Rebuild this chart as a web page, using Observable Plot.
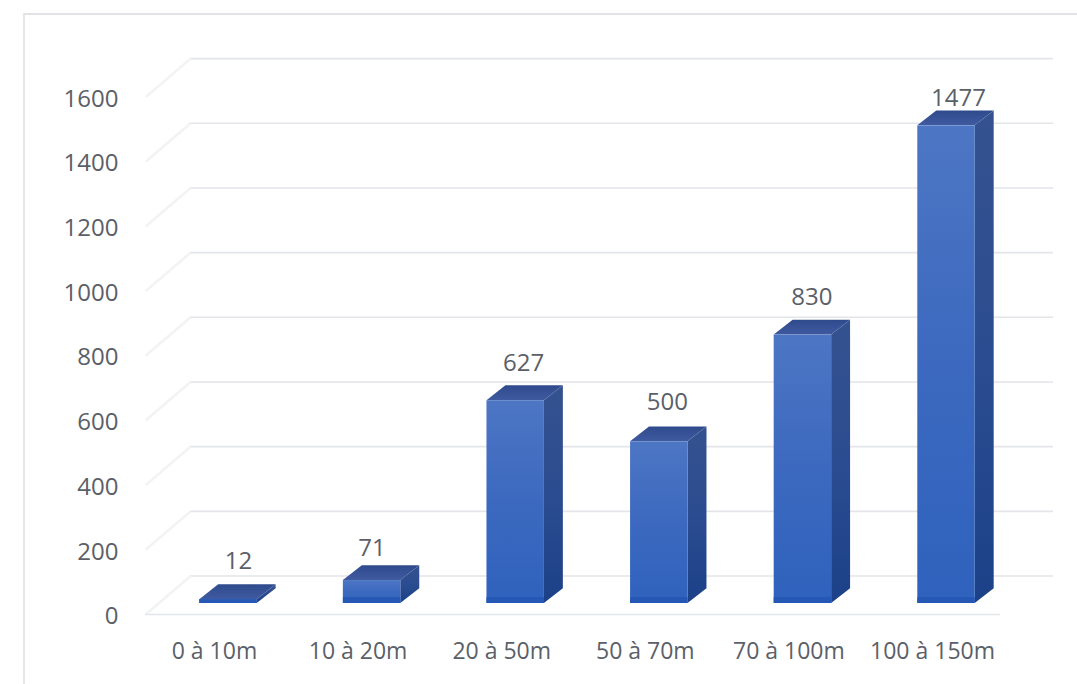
<!DOCTYPE html>
<html>
<head>
<meta charset="utf-8">
<script src="https://cdn.jsdelivr.net/npm/d3@7"></script>
<script src="https://cdn.jsdelivr.net/npm/@observablehq/plot@0.6"></script>
<style>
  html, body { margin: 0; padding: 0; background: #fff; overflow: hidden; }
  #frame { position: absolute; left: 23px; top: 13px; right: 0; bottom: 0; border-top: 2px solid #e2e3e6; border-left: 2px solid #e6e7ea; pointer-events: none; }
  #chart { position: absolute; left: 0; top: 0; }
</style>
</head>
<body>
<div id="frame"></div>
<div id="chart"></div>
<script>
const categories = ["0 à 10m", "10 à 20m", "20 à 50m", "50 à 70m", "70 à 100m", "100 à 150m"];
const values = [12, 71, 627, 500, 830, 1477];
const yTicks = [0, 200, 400, 600, 800, 1000, 1200, 1400, 1600];

// Layout of the pseudo 3-D scene, in scale units
const halfBar = 0.2, depthX = 0.132, depthY = 46, bevel = 18;
const floorFront = -34, floorBack = 85;
const wallFrontX = -0.577, wallBackX = -0.264, backRightX = 5.745, floorRightX = 5.377;
const labelDx = [10, 0, 8, 8, 9, 12];
const labelDy = [-23, -17, -23, -25, -23, -13];

const rows = values.map((v, i) => ({i, v}));
const sides = rows.flatMap(({i, v}) => [
  {i, x: i + halfBar, y1: 0, y2: v},
  {i, x: i + halfBar + depthX, y1: depthY, y2: v + depthY}
]);
const tops = rows.flatMap(({i, v}) => [
  {i, y: v, x1: i - halfBar, x2: i + halfBar},
  {i, y: v + depthY, x1: i - halfBar + depthX, x2: i + halfBar + depthX}
]);

const textColor = "#5b6068";
const gridColor = "#e3e5e9";

function gradient(id, stops) {
  const g = d3.create("svg:linearGradient").attr("id", id)
    .attr("x1", 0).attr("y1", 0).attr("x2", 0).attr("y2", 1);
  for (const [o, c] of stops) g.append("stop").attr("offset", o).attr("stop-color", c);
  return g;
}
function defs() {
  const d = d3.create("svg:defs");
  d.append(() => gradient("front", [[0, "#4d76c4"], [0.5, "#3c69bf"], [1, "#2f62bd"]]).node());
  d.append(() => gradient("side", [[0, "#35528f"], [0.5, "#2b4c90"], [1, "#1c4188"]]).node());
  d.append(() => gradient("top", [[0, "#2f4a8c"], [1, "#3f5aa0"]]).node());
  return d.node();
}

const plot = Plot.plot({
  width: 1077,
  height: 684,
  marginLeft: 124,
  marginRight: 24,
  marginTop: 40,
  marginBottom: 70,
  style: {background: "transparent", fontFamily: "'Open Sans', sans-serif"},
  x: {type: "linear", domain: [-0.724, 5.745], axis: null},
  y: {type: "linear", domain: [floorFront, 1741], axis: null},
  marks: [
    defs,
    Plot.ruleY(yTicks, {y: d => d + floorBack, x1: wallBackX, x2: backRightX, stroke: gridColor, strokeWidth: 1.6}),
    Plot.link(yTicks, {x1: wallFrontX, y1: d => d + floorFront, x2: wallBackX, y2: d => d + floorBack, stroke: "#f2f3f4", strokeWidth: 2.5}),
    Plot.ruleY([floorFront], {x1: wallFrontX, x2: floorRightX, stroke: gridColor, strokeWidth: 1.6}),
    Plot.axisY({
      ticks: yTicks.map(d => d + floorFront),
      tickFormat: d => String(d - floorFront),
      tickSize: 0, tickPadding: 6, label: null, fontSize: 24, dy: 2, color: textColor
    }),
    Plot.axisX({
      ticks: d3.range(categories.length),
      tickFormat: i => categories[i],
      tickSize: 0, tickPadding: 28, label: null, fontSize: 23, dx: -14, color: textColor
    }),
    Plot.areaX(tops, {y: "y", x1: "x1", x2: "x2", z: "i", fill: "url(#top)"}),
    Plot.areaY(sides, {x: "x", y1: "y1", y2: "y2", z: "i", fill: "url(#side)"}),
    Plot.rect(rows, {x1: d => d.i - halfBar, x2: d => d.i + halfBar, y1: 0, y2: "v", fill: "url(#front)"}),
    Plot.rect(rows, {x1: d => d.i - halfBar, x2: d => d.i + halfBar, y1: 0, y2: d => Math.min(d.v, bevel), fill: "#2557b4"}),
    ...rows.map(r => Plot.text([r], {
      x: "i", y: d => d.v + depthY, text: d => String(d.v),
      dx: labelDx[r.i], dy: labelDy[r.i],
      fontSize: 24, fill: textColor, lineAnchor: "middle"
    }))
  ]
});
document.getElementById("chart").append(plot);
</script>
</body>
</html>
